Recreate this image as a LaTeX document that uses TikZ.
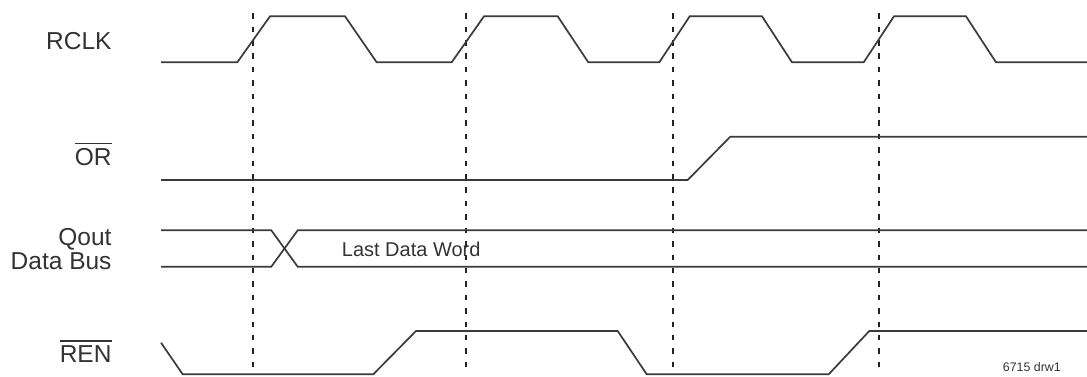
\documentclass[tikz,border=0pt]{standalone}
\usepackage{fontspec}
\setmainfont{Liberation Sans}
\definecolor{ink}{HTML}{3A3A3A}
\definecolor{guideink}{HTML}{222222}
\definecolor{txt}{HTML}{333333}
\newlength\barw
\newcommand\barred[1]{\settowidth\barw{#1}\rlap{\rule[21pt]{\barw}{1.4pt}}#1}
\tikzset{
  wave/.style={draw=ink, line width=1.7pt, line join=miter},
  guide/.style={draw=guideink, line width=1.7pt, dash pattern=on 5.5pt off 7.9pt},
  siglabel/.style={anchor=base east, inner sep=0pt, text=txt, font=\fontsize{24.5pt}{24.5pt}\selectfont},
  innerlabel/.style={anchor=base west, inner sep=0pt, text=txt, font=\fontsize{20pt}{20pt}\selectfont},
  smalllabel/.style={anchor=base east, inner sep=0pt, text=txt, font=\fontsize{12.4pt}{12.4pt}\selectfont}
}
\begin{document}
\begin{tikzpicture}[x=1pt,y=-1pt]
\useasboundingbox (0,0) rectangle (1087,377);
% guide lines
\foreach \gx in {253.3,465.7,673.3,879.3}
  \draw[guide] (\gx,13.3) -- (\gx,368);
% RCLK
\draw[wave] (161,62.3) -- (237.3,62.3) -- (270,16.3) -- (345,16.3) -- (376.7,62.3)
  -- (451.7,62.3) -- (484,16.3) -- (557.7,16.3) -- (588.3,62.3)
  -- (659.3,62.3) -- (689.7,16.3) -- (762,16.3) -- (792,62.3)
  -- (863.7,62.3) -- (894,16.3) -- (966,16.3) -- (996,62.3) -- (1087,62.3);
% OR
\draw[wave] (161,180) -- (687.7,180) -- (730.3,136.7) -- (1087,136.7);
% Qout data bus
\draw[wave] (161,230.3) -- (271.3,230.3) -- (297.7,266.7) -- (1087,266.7);
\draw[wave] (161,266.7) -- (271.3,266.7) -- (297.7,230.3) -- (1087,230.3);
% REN
\draw[wave] (161,342.7) -- (182.7,374.3) -- (373.3,374.3) -- (416,331) -- (617.7,331)
  -- (646.7,374.3) -- (828.7,374.3) -- (869.3,331) -- (1087,331);
% labels
\node[siglabel] (rclk) at (111.7,50) {RCLK};
\node[siglabel] (orl) at (111.7,165) {\barred{OR}};
\node[siglabel] (qout) at (111.7,245) {Qout};
\node[siglabel] (dbus) at (111.7,269.3) {Data Bus};
\node[siglabel] (renl) at (111.7,362.7) {\barred{REN}};
\node[innerlabel] (ldw) at (341.7,256) {Last Data Word};
\node[smalllabel] (drw) at (1061,371.5) {6715 drw1};
\end{tikzpicture}
\end{document}
